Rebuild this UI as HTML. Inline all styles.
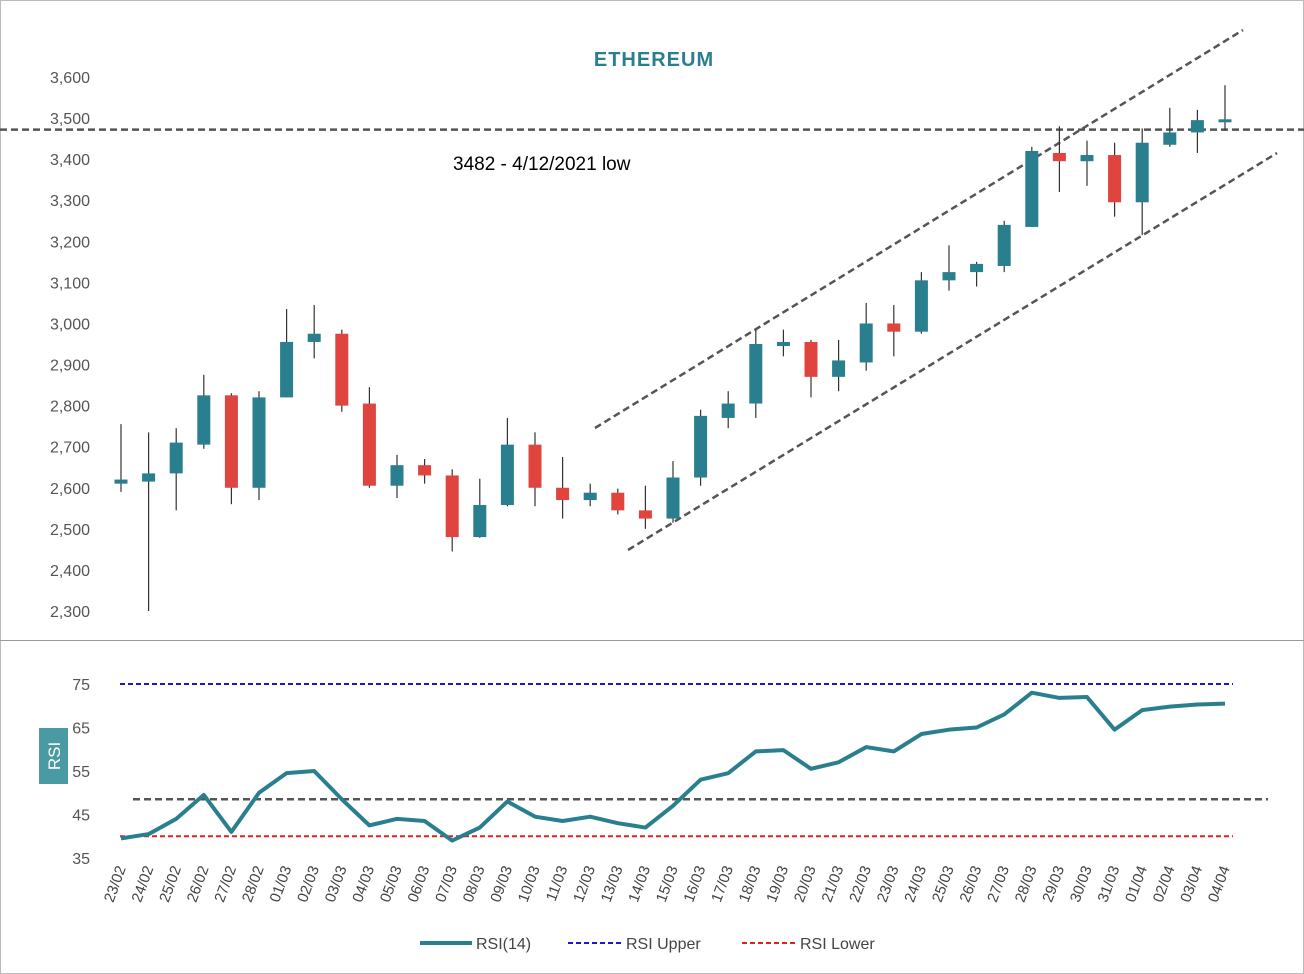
<!DOCTYPE html>
<html><head><meta charset="utf-8"><style>
body{margin:0;background:#fff;font-family:"Liberation Sans",sans-serif}
svg{display:block}
</style></head><body>
<svg id="c" width="1304" height="974" viewBox="0 0 1304 974">
<rect x="0.5" y="0.5" width="1303" height="973" fill="#fff" stroke="#bbb"/>
<line x1="0" y1="640.5" x2="1304" y2="640.5" stroke="#999"/>
<text x="654" y="66" text-anchor="middle" font-size="20" font-weight="bold" fill="#2a7f8e" letter-spacing="1">ETHEREUM</text>
<text x="453" y="170" font-size="19" fill="#000">3482 - 4/12/2021 low</text>
<g id="g"></g>
<rect x="39" y="728" width="29" height="56" fill="#4a9aa3"/>
<text transform="translate(60,756) rotate(-90)" text-anchor="middle" font-size="17" fill="#fff">RSI</text>
<g>
<line x1="420" y1="943" x2="472" y2="943" stroke="#2a7f8e" stroke-width="4"/>
<text x="476" y="949" font-size="16" fill="#444">RSI(14)</text>
<line x1="568" y1="943" x2="622" y2="943" stroke="#1a1acc" stroke-width="2" stroke-dasharray="5,3"/>
<text x="626" y="949" font-size="16" fill="#444">RSI Upper</text>
<line x1="742" y1="943" x2="796" y2="943" stroke="#e02020" stroke-width="2" stroke-dasharray="5,3"/>
<text x="800" y="949" font-size="16" fill="#444">RSI Lower</text>
</g>
</svg>
<script>
const dates=["23/02","24/02","25/02","26/02","27/02","28/02","01/03","02/03","03/03","04/03","05/03","06/03","07/03","08/03","09/03","10/03","11/03","12/03","13/03","14/03","15/03","16/03","17/03","18/03","19/03","20/03","21/03","22/03","23/03","24/03","25/03","26/03","27/03","28/03","29/03","30/03","31/03","01/04","02/04","03/04","04/04"];
const opens=[2610,2615,2635,2705,2825,2600,2820,2955,2975,2805,2605,2655,2630,2480,2558,2705,2600,2570,2588,2545,2525,2625,2770,2805,2945,2955,2870,2905,3000,2980,3105,3125,3140,3235,3415,3395,3410,3295,3435,3465,3495];
const highs=[2755,2735,2745,2875,2830,2835,3035,3045,2985,2845,2680,2670,2645,2622,2770,2735,2675,2610,2598,2605,2665,2790,2835,2985,2985,2960,2960,3050,3045,3125,3190,3150,3250,3430,3480,3445,3440,3475,3525,3520,3580];
const lows=[2590,2300,2545,2695,2560,2570,2820,2915,2785,2600,2575,2610,2445,2478,2555,2555,2525,2555,2535,2500,2515,2605,2745,2770,2920,2820,2835,2885,2920,2975,3080,3090,3125,3235,3320,3335,3260,3215,3430,3415,3470];
const closes=[2620,2635,2710,2825,2600,2820,2955,2975,2800,2605,2655,2630,2480,2558,2705,2600,2570,2588,2545,2525,2625,2775,2805,2950,2955,2870,2910,3000,2980,3105,3125,3145,3240,3420,3395,3410,3295,3440,3465,3495,3497];
const rsi=[39.5,40.5,44,49.5,41,50,54.5,55,48.5,42.5,44,43.5,39,42,48,44.5,43.5,44.5,43,42,47,53,54.5,59.5,59.8,55.5,57,60.5,59.5,63.5,64.5,65,68,73,71.8,72,64.5,69,69.8,70.3,70.5];
const priceTicks=[2300,2400,2500,2600,2700,2800,2900,3000,3100,3200,3300,3400,3500,3600];
const rsiTicks=[35,45,55,65,75];
const rsiUpper=75,rsiLower=40,rsiMid=48.5,resistance=3472;
const ns="http://www.w3.org/2000/svg",g=document.getElementById('g');
const X=i=>121+i*27.6;
const Y=p=>611-(p-2300)*(534/1300);
const R=v=>858-(v-35)*(174/40);
function mk(t,a,parent){const e=document.createElementNS(ns,t);for(const k in a)e.setAttribute(k,a[k]);(parent||g).appendChild(e);return e;}
priceTicks.forEach(t=>{const e=mk('text',{x:90,y:Y(t)+6,'text-anchor':'end','font-size':16,fill:'#555'});e.textContent=t.toLocaleString('en-US');

});
rsiTicks.forEach(t=>{const e=mk('text',{x:90,y:R(t)+6,'text-anchor':'end','font-size':16,fill:'#555'});e.textContent=t;

});
let l=mk('line',{x1:0,y1:Y(resistance),x2:1304,y2:Y(resistance),stroke:'#555','stroke-width':2.5,'stroke-dasharray':'7,4'});


l=mk('line',{x1:595,y1:428,x2:1243,y2:30,stroke:'#555','stroke-width':2.5,'stroke-dasharray':'7,4'});


l=mk('line',{x1:628,y1:550,x2:1277,y2:153,stroke:'#555','stroke-width':2.5,'stroke-dasharray':'7,4'});


dates.forEach((d,i)=>{const x=X(i),up=closes[i]>=opens[i],col=up?'#2a7f8e':'#e0443e';
const w=mk('line',{x1:x,y1:Y(highs[i]),x2:x,y2:Y(lows[i]),stroke:'#333','stroke-width':1.2});


const t=Y(Math.max(opens[i],closes[i])),b=Y(Math.min(opens[i],closes[i]));
const r=mk('rect',{x:x-6.5,y:t,width:13,height:Math.max(b-t,3),fill:col});


const tx=mk('text',{transform:`translate(${x+5},${868}) rotate(-70)`,'text-anchor':'end','font-size':15,fill:'#444'});tx.textContent=d;

});
l=mk('line',{x1:120,y1:R(rsiUpper),x2:1233,y2:R(rsiUpper),stroke:'#1a1acc','stroke-width':2,'stroke-dasharray':'5,3'});


l=mk('line',{x1:120,y1:R(rsiLower),x2:1233,y2:R(rsiLower),stroke:'#e02020','stroke-width':2,'stroke-dasharray':'5,3'});


l=mk('line',{x1:133,y1:R(rsiMid),x2:1268,y2:R(rsiMid),stroke:'#555','stroke-width':2.5,'stroke-dasharray':'7,4'});


const p=mk('polyline',{points:rsi.map((v,i)=>X(i)+','+R(v)).join(' '),fill:'none',stroke:'#2a7f8e','stroke-width':4,'stroke-linejoin':'round'});


</script>
</body></html>
